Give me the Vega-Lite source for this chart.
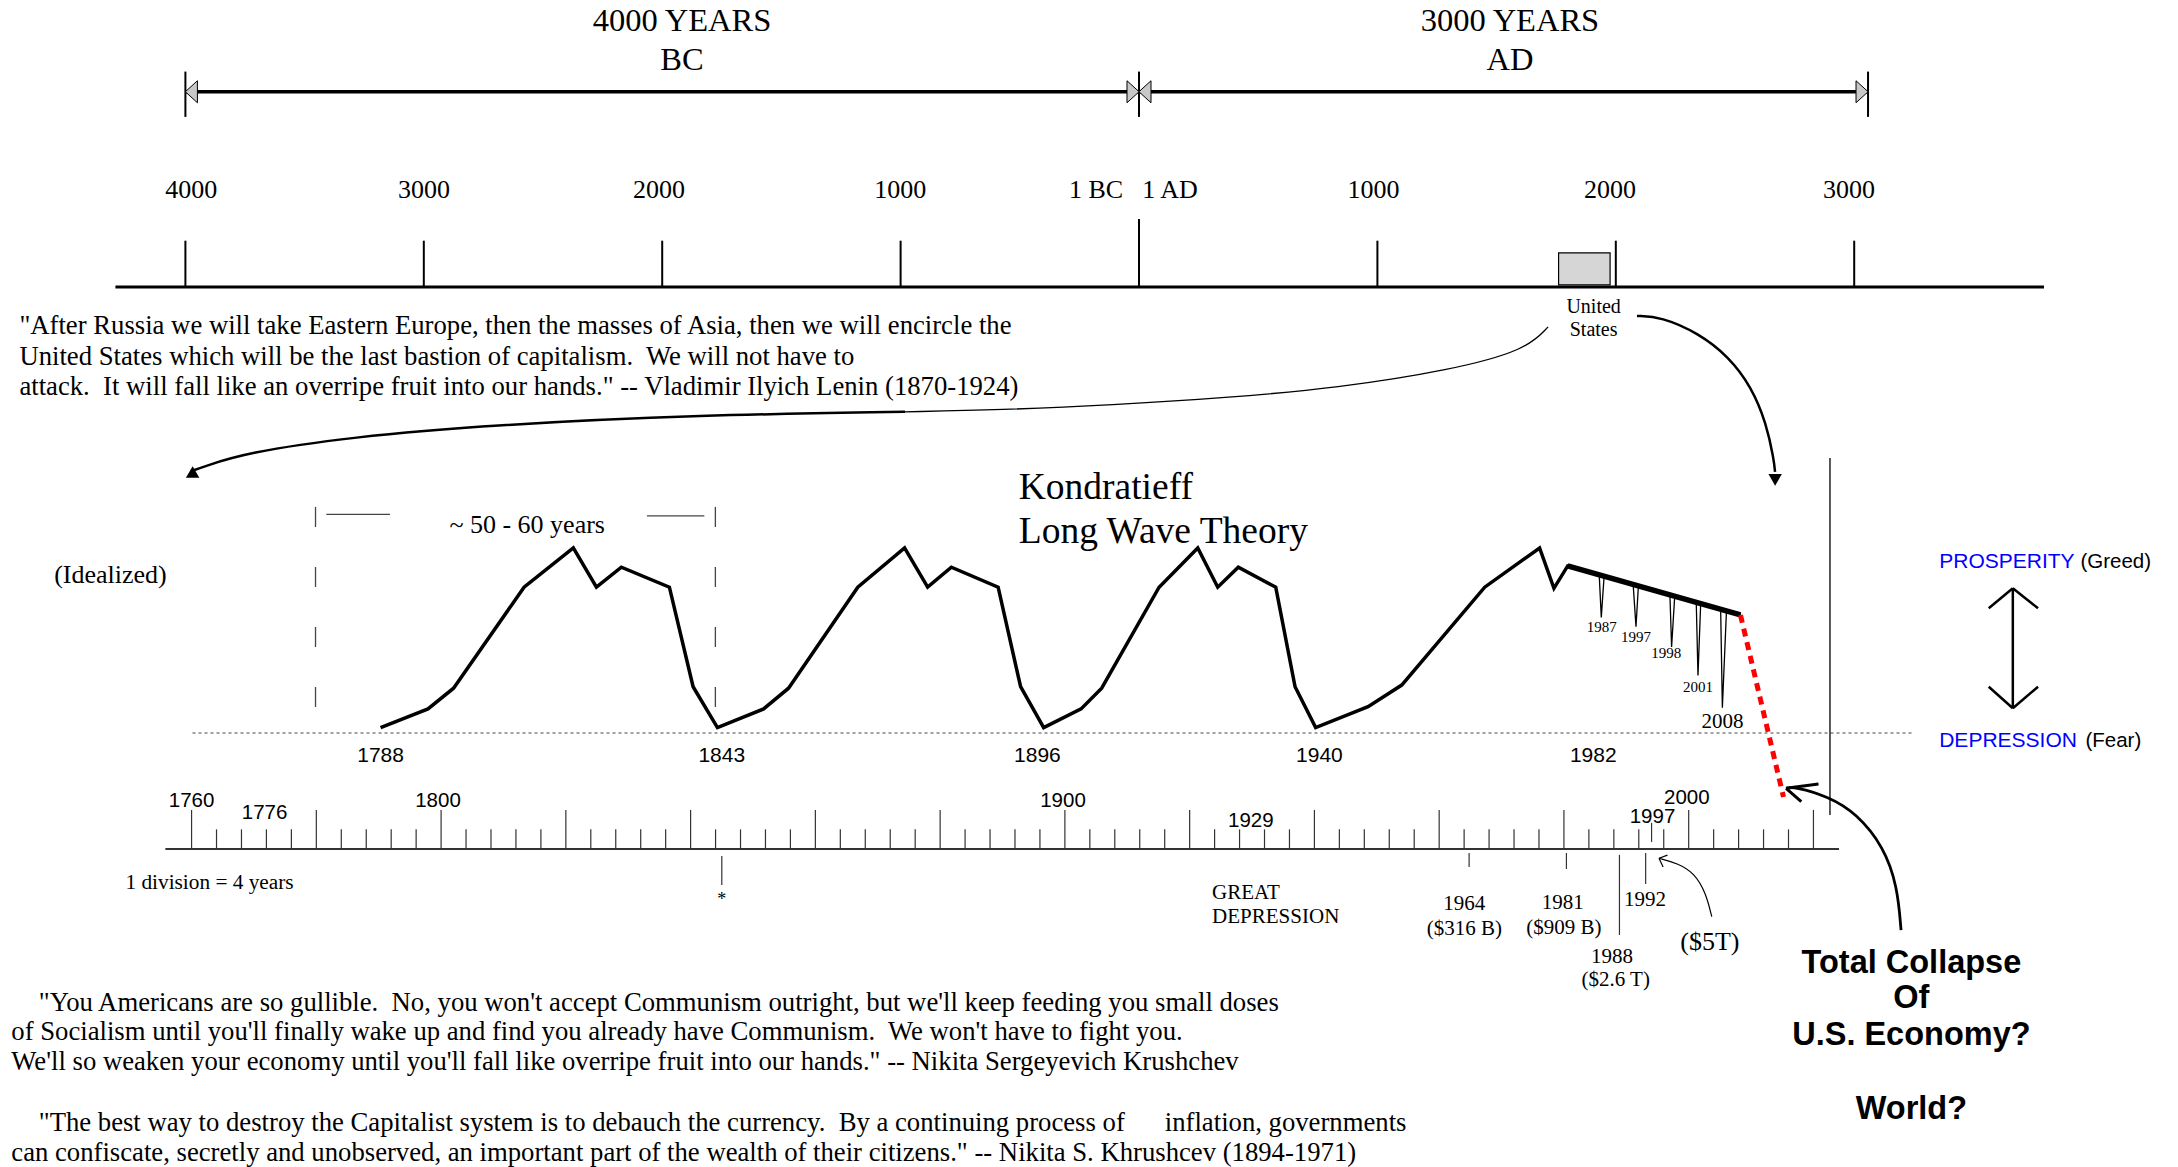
{
"$schema":"https://vega.github.io/schema/vega-lite/v6.json",
"width":2178,"height":1167,"padding":0,"autosize":{"type":"none"},
"background":"#ffffff",
"config":{"view":{"stroke":null},"text":{"font":"Liberation Serif","color":"#000000","baseline":"middle"}},
"resolve":{"scale":{"x":"independent","y":"independent"}},
"layer":[
{"data":{"values":[{"era":-4293.6,"era2":3796.1,"level":241.1}]},
 "mark":{"type":"rule","strokeWidth":3,"color":"#000000"},
 "encoding":{"x":{"field":"era","type":"quantitative","scale":{"domain":[-4777.7,4358.2],"nice":false,"zero":false},"axis":null},"x2":{"field":"era2"},
 "y":{"field":"level","type":"quantitative","scale":{"domain":[-234.6,396.2],"nice":false,"zero":false},"axis":null}}},
{"data":{"values":[{"era":-4000},{"era":-3000},{"era":-2000},{"era":-1000},{"era":1000},{"era":2000},{"era":3000}]},
 "mark":{"type":"rule","strokeWidth":2,"color":"#000000"},
 "encoding":{"x":{"field":"era","type":"quantitative","scale":{"domain":[-4777.7,4358.2],"nice":false,"zero":false},"axis":null},
 "y":{"datum":241.1,"type":"quantitative","scale":{"domain":[-234.6,396.2],"nice":false,"zero":false},"axis":null},"y2":{"datum":266.1}}},
{"data":{"values":[{"era":0}]},
 "mark":{"type":"rule","strokeWidth":2,"color":"#000000"},
 "encoding":{"x":{"field":"era","type":"quantitative","scale":{"domain":[-4777.7,4358.2],"nice":false,"zero":false},"axis":null},
 "y":{"datum":241.1,"type":"quantitative","scale":{"domain":[-234.6,396.2],"nice":false,"zero":false},"axis":null},"y2":{"datum":277.8}}},
{"data":{"values":[{"label":"4000","era":-3976},{"label":"3000","era":-2999},{"label":"2000","era":-2013},{"label":"1000","era":-1002},{"label":"1 BC","era":-180},{"label":"1 AD","era":130},{"label":"1000","era":984},{"label":"2000","era":1976},{"label":"3000","era":2978}]},
 "mark":{"type":"text","fontSize":26,"align":"center"},
 "encoding":{"x":{"field":"era","type":"quantitative","scale":{"domain":[-4777.7,4358.2],"nice":false,"zero":false},"axis":null},
 "y":{"datum":293.5,"type":"quantitative","scale":{"domain":[-234.6,396.2],"nice":false,"zero":false},"axis":null},"text":{"field":"label"}}},
{"data":{"values":[{"era":-4000,"era2":3058,"level":346.6}]},
 "mark":{"type":"rule","strokeWidth":3.5,"color":"#000000"},
 "encoding":{"x":{"field":"era","type":"quantitative","scale":{"domain":[-4777.7,4358.2],"nice":false,"zero":false},"axis":null},"x2":{"field":"era2"},
 "y":{"field":"level","type":"quantitative","scale":{"domain":[-234.6,396.2],"nice":false,"zero":false},"axis":null}}},
{"data":{"values":[{"era":-4000},{"era":0},{"era":3058}]},
 "mark":{"type":"rule","strokeWidth":2,"color":"#000000"},
 "encoding":{"x":{"field":"era","type":"quantitative","scale":{"domain":[-4777.7,4358.2],"nice":false,"zero":false},"axis":null},
 "y":{"datum":333.0,"type":"quantitative","scale":{"domain":[-234.6,396.2],"nice":false,"zero":false},"axis":null},"y2":{"datum":357.5}}},
{"data":{"values":[{"era":-3975,"level":346.6},{"era":25,"level":346.6}]},
 "mark":{"type":"point","shape":"M0.55,-1L-0.55,0L0.55,1Z","size":484,"filled":true,"fill":"#c8c8c8","stroke":"#000000","strokeWidth":1,"opacity":1},
 "encoding":{"x":{"field":"era","type":"quantitative","scale":{"domain":[-4777.7,4358.2],"nice":false,"zero":false},"axis":null},
 "y":{"field":"level","type":"quantitative","scale":{"domain":[-234.6,396.2],"nice":false,"zero":false},"axis":null}}},
{"data":{"values":[{"era":-25,"level":346.6},{"era":3033,"level":346.6}]},
 "mark":{"type":"point","shape":"M-0.55,-1L0.55,0L-0.55,1Z","size":484,"filled":true,"fill":"#c8c8c8","stroke":"#000000","strokeWidth":1,"opacity":1},
 "encoding":{"x":{"field":"era","type":"quantitative","scale":{"domain":[-4777.7,4358.2],"nice":false,"zero":false},"axis":null},
 "y":{"field":"level","type":"quantitative","scale":{"domain":[-234.6,396.2],"nice":false,"zero":false},"axis":null}}},
{"data":{"values":[{"label":"4000 YEARS","era":-1917,"level":384.9},{"label":"BC","era":-1917,"level":363.8},{"label":"3000 YEARS","era":1556,"level":384.9},{"label":"AD","era":1556,"level":363.8}]},
 "mark":{"type":"text","fontSize":32.5,"align":"center"},
 "encoding":{"x":{"field":"era","type":"quantitative","scale":{"domain":[-4777.7,4358.2],"nice":false,"zero":false},"axis":null},
 "y":{"field":"level","type":"quantitative","scale":{"domain":[-234.6,396.2],"nice":false,"zero":false},"axis":null},"text":{"field":"label"}}},
{"data":{"values":[{"era":1760,"era2":1976,"level":242.2,"level2":259.5}]},
 "mark":{"type":"rect","fill":"#d6d6d6","stroke":"#000000","strokeWidth":1.2},
 "encoding":{"x":{"field":"era","type":"quantitative","scale":{"domain":[-4777.7,4358.2],"nice":false,"zero":false},"axis":null},"x2":{"field":"era2"},
 "y":{"field":"level","type":"quantitative","scale":{"domain":[-234.6,396.2],"nice":false,"zero":false},"axis":null},"y2":{"field":"level2"}}},
{"data":{"values":[{"label":"United","era":1906.9,"level":230.4},{"label":"States","era":1906.9,"level":217.8}]},
 "mark":{"type":"text","fontSize":20,"align":"center"},
 "encoding":{"x":{"field":"era","type":"quantitative","scale":{"domain":[-4777.7,4358.2],"nice":false,"zero":false},"axis":null},
 "y":{"field":"level","type":"quantitative","scale":{"domain":[-234.6,396.2],"nice":false,"zero":false},"axis":null},"text":{"field":"label"}}},

{"data":{"values":[{"year":1760.15,"year2":2035.9,"level":0}]},
 "mark":{"type":"rule","strokeWidth":1.2,"color":"#444444","strokeDash":[3,3]},
 "encoding":{"x":{"field":"year","type":"quantitative","scale":{"domain":[1729.29,2078.44],"nice":false,"zero":false},"axis":null},"x2":{"field":"year2"},
 "y":{"field":"level","type":"quantitative","scale":{"domain":[-234.6,396.2],"nice":false,"zero":false},"axis":null}}},
{"data":{"values":[{"year":1790.3,"level":2.9},{"year":1797.9,"level":13},{"year":1802.0,"level":24.2},{"year":1813.3,"level":78.8},{"year":1821.2,"level":100},{"year":1824.9,"level":78.8},{"year":1828.9,"level":89.6},{"year":1836.6,"level":78.8},{"year":1840.4,"level":25},{"year":1844.3,"level":2.9},{"year":1851.7,"level":13},{"year":1855.7,"level":24.2},{"year":1866.8,"level":78.8},{"year":1874.3,"level":100},{"year":1878.0,"level":78.8},{"year":1881.8,"level":89.6},{"year":1889.3,"level":78.8},{"year":1892.9,"level":25},{"year":1896.6,"level":2.9},{"year":1902.6,"level":13},{"year":1905.9,"level":24.2},{"year":1915.1,"level":78.8},{"year":1921.3,"level":100},{"year":1924.5,"level":78.8},{"year":1927.8,"level":89.6},{"year":1933.8,"level":78.8},{"year":1936.9,"level":25},{"year":1940.2,"level":2.9},{"year":1948.6,"level":14.2},{"year":1954.0,"level":25.9},{"year":1967.3,"level":78.8},{"year":1976.1,"level":100},{"year":1978.4,"level":78.2},{"year":1980.6,"level":90.3},{"year":2008.3,"level":63.8}]},
 "mark":{"type":"line","strokeWidth":3.5,"color":"#000000"},
 "encoding":{"x":{"field":"year","type":"quantitative","scale":{"domain":[1729.29,2078.44],"nice":false,"zero":false},"axis":null},
 "y":{"field":"level","type":"quantitative","scale":{"domain":[-234.6,396.2],"nice":false,"zero":false},"axis":null}}},
{"data":{"values":[{"year":1980.6,"level":90.3},{"year":2008.3,"level":63.8}]},
 "mark":{"type":"line","strokeWidth":5.5,"color":"#000000"},
 "encoding":{"x":{"field":"year","type":"quantitative","scale":{"domain":[1729.29,2078.44],"nice":false,"zero":false},"axis":null},
 "y":{"field":"level","type":"quantitative","scale":{"domain":[-234.6,396.2],"nice":false,"zero":false},"axis":null}}},
{"data":{"values":[{"year":2008.3,"level":63.8},{"year":2015.2,"level":-34.6}]},
 "mark":{"type":"line","strokeWidth":5,"color":"#ff0000","strokeDash":[8,6]},
 "encoding":{"x":{"field":"year","type":"quantitative","scale":{"domain":[1729.29,2078.44],"nice":false,"zero":false},"axis":null},
 "y":{"field":"level","type":"quantitative","scale":{"domain":[-234.6,396.2],"nice":false,"zero":false},"axis":null}}},
{"data":{"values":[{"spike":"a","year":1985.67,"level":84.5},{"spike":"a","year":1985.99,"level":62.5},{"spike":"a","year":1986.42,"level":83.8},{"spike":"b","year":1991.12,"level":79.2},{"spike":"b","year":1991.55,"level":57.5},{"spike":"b","year":1991.92,"level":78.5},{"spike":"c","year":1997.0,"level":73.6},{"spike":"c","year":1997.26,"level":46.5},{"spike":"c","year":1997.74,"level":72.9},{"spike":"d","year":2001.22,"level":69.6},{"spike":"d","year":2001.49,"level":31.1},{"spike":"d","year":2001.91,"level":68.9},{"spike":"e","year":2005.13,"level":65.8},{"spike":"e","year":2005.4,"level":13.6},{"spike":"e","year":2006.04,"level":64.9}]},
 "mark":{"type":"line","strokeWidth":1.3,"color":"#000000"},
 "encoding":{"x":{"field":"year","type":"quantitative","scale":{"domain":[1729.29,2078.44],"nice":false,"zero":false},"axis":null},
 "y":{"field":"level","type":"quantitative","scale":{"domain":[-234.6,396.2],"nice":false,"zero":false},"axis":null},"detail":{"field":"spike"}}},
{"data":{"values":[{"label":"1987","year":1986.05,"level":57.5},{"label":"1997","year":1991.55,"level":51.9},{"label":"1998","year":1996.4,"level":43.2},{"label":"2001","year":2001.5,"level":25.1}]},
 "mark":{"type":"text","fontSize":15,"align":"center"},
 "encoding":{"x":{"field":"year","type":"quantitative","scale":{"domain":[1729.29,2078.44],"nice":false,"zero":false},"axis":null},
 "y":{"field":"level","type":"quantitative","scale":{"domain":[-234.6,396.2],"nice":false,"zero":false},"axis":null},"text":{"field":"label"}}},
{"data":{"values":[{"label":"2008","year":2005.4,"level":6.2}]},
 "mark":{"type":"text","fontSize":21,"align":"center"},
 "encoding":{"x":{"field":"year","type":"quantitative","scale":{"domain":[1729.29,2078.44],"nice":false,"zero":false},"axis":null},
 "y":{"field":"level","type":"quantitative","scale":{"domain":[-234.6,396.2],"nice":false,"zero":false},"axis":null},"text":{"field":"label"}}},
{"data":{"values":[{"label":"1788","year":1790.3},{"label":"1843","year":1845.0},{"label":"1896","year":1895.6},{"label":"1940","year":1940.8},{"label":"1982","year":1984.7}]},
 "mark":{"type":"text","fontSize":21,"align":"center","font":"Liberation Sans"},
 "encoding":{"x":{"field":"year","type":"quantitative","scale":{"domain":[1729.29,2078.44],"nice":false,"zero":false},"axis":null},
 "y":{"datum":-12.4,"type":"quantitative","scale":{"domain":[-234.6,396.2],"nice":false,"zero":false},"axis":null},"text":{"field":"label"}}},
{"data":{"values":[{"year":1779.87},{"year":1843.97}]},
 "mark":{"type":"rule","strokeWidth":1.3,"color":"#444444","strokeDash":[20,40]},
 "encoding":{"x":{"field":"year","type":"quantitative","scale":{"domain":[1729.29,2078.44],"nice":false,"zero":false},"axis":null},
 "y":{"datum":122.2,"type":"quantitative","scale":{"domain":[-234.6,396.2],"nice":false,"zero":false},"axis":null},"y2":{"datum":13.5}}},
{"data":{"values":[{"year":1781.6,"year2":1791.8,"level":118.2},{"year":1833.0,"year2":1842.2,"level":117.3}]},
 "mark":{"type":"rule","strokeWidth":1.3,"color":"#444444"},
 "encoding":{"x":{"field":"year","type":"quantitative","scale":{"domain":[1729.29,2078.44],"nice":false,"zero":false},"axis":null},"x2":{"field":"year2"},
 "y":{"field":"level","type":"quantitative","scale":{"domain":[-234.6,396.2],"nice":false,"zero":false},"axis":null}}},
{"data":{"values":[{"label":"~ 50 - 60 years","year":1813.8,"level":112.4},{"label":"(Idealized)","year":1747.0,"level":85.4}]},
 "mark":{"type":"text","fontSize":26,"align":"center"},
 "encoding":{"x":{"field":"year","type":"quantitative","scale":{"domain":[1729.29,2078.44],"nice":false,"zero":false},"axis":null},
 "y":{"field":"level","type":"quantitative","scale":{"domain":[-234.6,396.2],"nice":false,"zero":false},"axis":null},"text":{"field":"label"}}},
{"data":{"values":[{"label":"Kondratieff","year":1892.6,"level":132.3},{"label":"Long Wave Theory","year":1892.6,"level":108.8}]},
 "mark":{"type":"text","fontSize":37.5,"align":"left"},
 "encoding":{"x":{"field":"year","type":"quantitative","scale":{"domain":[1729.29,2078.44],"nice":false,"zero":false},"axis":null},
 "y":{"field":"level","type":"quantitative","scale":{"domain":[-234.6,396.2],"nice":false,"zero":false},"axis":null},"text":{"field":"label"}}},
{"data":{"values":[{"label":"PROSPERITY","year":2040.16,"level":92.6},{"label":"DEPRESSION","year":2040.16,"level":-4.2}]},
 "mark":{"type":"text","fontSize":21,"align":"left","font":"Liberation Sans","color":"#0000ff"},
 "encoding":{"x":{"field":"year","type":"quantitative","scale":{"domain":[1729.29,2078.44],"nice":false,"zero":false},"axis":null},
 "y":{"field":"level","type":"quantitative","scale":{"domain":[-234.6,396.2],"nice":false,"zero":false},"axis":null},"text":{"field":"label"}}},
{"data":{"values":[{"label":"(Greed)","year":2062.8,"level":92.6},{"label":"(Fear)","year":2063.6,"level":-4.2}]},
 "mark":{"type":"text","fontSize":20.5,"align":"left","font":"Liberation Sans","color":"#000000"},
 "encoding":{"x":{"field":"year","type":"quantitative","scale":{"domain":[1729.29,2078.44],"nice":false,"zero":false},"axis":null},
 "y":{"field":"level","type":"quantitative","scale":{"domain":[-234.6,396.2],"nice":false,"zero":false},"axis":null},"text":{"field":"label"}}},
{"data":{"values":[{"year":2051.96,"level":78.2,"year2":2051.96,"level2":13.4},{"year":2048.1,"level":67.4,"year2":2051.96,"level2":78.2},{"year":2056.0,"level":67.4,"year2":2051.96,"level2":78.2},{"year":2048.1,"level":25.0,"year2":2051.96,"level2":13.4},{"year":2056.0,"level":25.0,"year2":2051.96,"level2":13.4}]},
 "mark":{"type":"rule","strokeWidth":2.5,"color":"#000000"},
 "encoding":{"x":{"field":"year","type":"quantitative","scale":{"domain":[1729.29,2078.44],"nice":false,"zero":false},"axis":null},"x2":{"field":"year2"},
 "y":{"field":"level","type":"quantitative","scale":{"domain":[-234.6,396.2],"nice":false,"zero":false},"axis":null},"y2":{"field":"level2"}}},
{"data":{"values":[{"year":2022.65,"level":148.6,"level2":-44.3}]},
 "mark":{"type":"rule","strokeWidth":1.3,"color":"#000000"},
 "encoding":{"x":{"field":"year","type":"quantitative","scale":{"domain":[1729.29,2078.44],"nice":false,"zero":false},"axis":null},
 "y":{"field":"level","type":"quantitative","scale":{"domain":[-234.6,396.2],"nice":false,"zero":false},"axis":null},"y2":{"field":"level2"}}},
{"data":{"values":[{"year":1755.8,"year2":2024.1,"level":-62.7}]},
 "mark":{"type":"rule","strokeWidth":2,"color":"#333333"},
 "encoding":{"x":{"field":"year","type":"quantitative","scale":{"domain":[1729.29,2078.44],"nice":false,"zero":false},"axis":null},"x2":{"field":"year2"},
 "y":{"field":"level","type":"quantitative","scale":{"domain":[-234.6,396.2],"nice":false,"zero":false},"axis":null}}},
{"data":{"values":[{"year":1760},{"year":1780},{"year":1800},{"year":1820},{"year":1840},{"year":1860},{"year":1880},{"year":1900},{"year":1920},{"year":1940},{"year":1960},{"year":1980},{"year":2000},{"year":2020}]},
 "mark":{"type":"rule","strokeWidth":1.2,"color":"#333333"},
 "encoding":{"x":{"field":"year","type":"quantitative","scale":{"domain":[1729.29,2078.44],"nice":false,"zero":false},"axis":null},
 "y":{"datum":-62.7,"type":"quantitative","scale":{"domain":[-234.6,396.2],"nice":false,"zero":false},"axis":null},"y2":{"datum":-41.6}}},
{"data":{"values":[{"year":1764},{"year":1768},{"year":1772},{"year":1776},{"year":1784},{"year":1788},{"year":1792},{"year":1796},{"year":1804},{"year":1808},{"year":1812},{"year":1816},{"year":1824},{"year":1828},{"year":1832},{"year":1836},{"year":1844},{"year":1848},{"year":1852},{"year":1856},{"year":1864},{"year":1868},{"year":1872},{"year":1876},{"year":1884},{"year":1888},{"year":1892},{"year":1896},{"year":1904},{"year":1908},{"year":1912},{"year":1916},{"year":1924},{"year":1928},{"year":1932},{"year":1936},{"year":1944},{"year":1948},{"year":1952},{"year":1956},{"year":1964},{"year":1968},{"year":1972},{"year":1976},{"year":1984},{"year":1988},{"year":1992},{"year":1996},{"year":2004},{"year":2008},{"year":2012},{"year":2016}]},
 "mark":{"type":"rule","strokeWidth":1.2,"color":"#333333"},
 "encoding":{"x":{"field":"year","type":"quantitative","scale":{"domain":[1729.29,2078.44],"nice":false,"zero":false},"axis":null},
 "y":{"datum":-62.7,"type":"quantitative","scale":{"domain":[-234.6,396.2],"nice":false,"zero":false},"axis":null},"y2":{"datum":-52.1}}},
{"data":{"values":[{"year":1994.05,"level":-48.6,"level2":-58.9},{"year":1964.8,"level":-64.9,"level2":-72.4},{"year":1980.4,"level":-64.9,"level2":-73.5},{"year":1988.9,"level":-65.9,"level2":-109.2},{"year":1993.1,"level":-64.9,"level2":-81.6},{"year":1845.0,"level":-66.5,"level2":-82.2}]},
 "mark":{"type":"rule","strokeWidth":1.2,"color":"#333333"},
 "encoding":{"x":{"field":"year","type":"quantitative","scale":{"domain":[1729.29,2078.44],"nice":false,"zero":false},"axis":null},
 "y":{"field":"level","type":"quantitative","scale":{"domain":[-234.6,396.2],"nice":false,"zero":false},"axis":null},"y2":{"field":"level2"}}},
{"data":{"values":[{"label":"1760","year":1760,"level":-36.8},{"label":"1776","year":1771.7,"level":-43.2},{"label":"1800","year":1799.5,"level":-36.8},{"label":"1900","year":1899.7,"level":-36.8},{"label":"1929","year":1929.8,"level":-47.4},{"label":"1997","year":1994.2,"level":-45.4},{"label":"2000","year":1999.7,"level":-35.1}]},
 "mark":{"type":"text","fontSize":20.5,"align":"center","font":"Liberation Sans"},
 "encoding":{"x":{"field":"year","type":"quantitative","scale":{"domain":[1729.29,2078.44],"nice":false,"zero":false},"axis":null},
 "y":{"field":"level","type":"quantitative","scale":{"domain":[-234.6,396.2],"nice":false,"zero":false},"axis":null},"text":{"field":"label"}}},
{"data":{"values":[{"label":"1 division = 4 years","year":1749.4,"level":-80.9}]},
 "mark":{"type":"text","fontSize":21.3,"align":"left"},
 "encoding":{"x":{"field":"year","type":"quantitative","scale":{"domain":[1729.29,2078.44],"nice":false,"zero":false},"axis":null},
 "y":{"field":"level","type":"quantitative","scale":{"domain":[-234.6,396.2],"nice":false,"zero":false},"axis":null},"text":{"field":"label"}}},
{"data":{"values":[{"label":"*","year":1845.0,"level":-90.5}]},
 "mark":{"type":"text","fontSize":18,"align":"center"},
 "encoding":{"x":{"field":"year","type":"quantitative","scale":{"domain":[1729.29,2078.44],"nice":false,"zero":false},"axis":null},
 "y":{"field":"level","type":"quantitative","scale":{"domain":[-234.6,396.2],"nice":false,"zero":false},"axis":null},"text":{"field":"label"}}},
{"data":{"values":[{"label":"GREAT","year":1923.6,"level":-86.6},{"label":"DEPRESSION","year":1923.6,"level":-99.3}]},
 "mark":{"type":"text","fontSize":21,"align":"left"},
 "encoding":{"x":{"field":"year","type":"quantitative","scale":{"domain":[1729.29,2078.44],"nice":false,"zero":false},"axis":null},
 "y":{"field":"level","type":"quantitative","scale":{"domain":[-234.6,396.2],"nice":false,"zero":false},"axis":null},"text":{"field":"label"}}},
{"data":{"values":[{"label":"1964","year":1964.04,"level":-92.6},{"label":"($316 B)","year":1964.04,"level":-106.1},{"label":"1981","year":1979.8,"level":-92.1},{"label":"($909 B)","year":1980.0,"level":-105.6},{"label":"1992","year":1993.0,"level":-90.3},{"label":"1988","year":1987.7,"level":-120.9},{"label":"($2.6 T)","year":1988.3,"level":-133.5}]},
 "mark":{"type":"text","fontSize":21,"align":"center"},
 "encoding":{"x":{"field":"year","type":"quantitative","scale":{"domain":[1729.29,2078.44],"nice":false,"zero":false},"axis":null},
 "y":{"field":"level","type":"quantitative","scale":{"domain":[-234.6,396.2],"nice":false,"zero":false},"axis":null},"text":{"field":"label"}}},
{"data":{"values":[{"label":"($5T)","year":2003.4,"level":-112.8}]},
 "mark":{"type":"text","fontSize":26,"align":"center"},
 "encoding":{"x":{"field":"year","type":"quantitative","scale":{"domain":[1729.29,2078.44],"nice":false,"zero":false},"axis":null},
 "y":{"field":"level","type":"quantitative","scale":{"domain":[-234.6,396.2],"nice":false,"zero":false},"axis":null},"text":{"field":"label"}}},
{"data":{"values":[{"label":"Total Collapse","year":2035.7,"level":-124.5},{"label":"Of","year":2035.7,"level":-143.4},{"label":"U.S. Economy?","year":2035.7,"level":-163.2},{"label":"World?","year":2035.7,"level":-203.4}]},
 "mark":{"type":"text","fontSize":32.5,"align":"center","font":"Liberation Sans","fontWeight":"bold"},
 "encoding":{"x":{"field":"year","type":"quantitative","scale":{"domain":[1729.29,2078.44],"nice":false,"zero":false},"axis":null},
 "y":{"field":"level","type":"quantitative","scale":{"domain":[-234.6,396.2],"nice":false,"zero":false},"axis":null},"text":{"field":"label"}}},
{"data":{"values":[
 {"label":"\"After Russia we will take Eastern Europe, then the masses of Asia, then we will encircle the","year":1732.4,"level":220},
 {"label":"United States which will be the last bastion of capitalism.\u00a0 We will not have to","year":1732.4,"level":203.4},
 {"label":"attack.\u00a0 It will fall like an overripe fruit into our hands.\" -- Vladimir Ilyich Lenin (1870-1924)","year":1732.4,"level":186.9},
 {"label":"\"You Americans are so gullible.\u00a0 No, you won't accept Communism outright, but we'll keep feeding you small doses","year":1735.5,"level":-145.8},
 {"label":"of Socialism until you'll finally wake up and find you already have Communism.\u00a0 We won't have to fight you.","year":1731.1,"level":-161.5},
 {"label":"We'll so weaken your economy until you'll fall like overripe fruit into our hands.\" -- Nikita Sergeyevich Krushchev","year":1731.1,"level":-177.7},
 {"label":"\"The best way to destroy the Capitalist system is to debauch the currency.\u00a0 By a continuing process of\u00a0\u00a0\u00a0\u00a0\u00a0 inflation, governments","year":1735.5,"level":-211.0},
 {"label":"can confiscate, secretly and unobserved, an important part of the wealth of their citizens.\" -- Nikita S. Khrushcev (1894-1971)","year":1731.1,"level":-227.2}]},
 "mark":{"type":"text","fontSize":26.7,"align":"left"},
 "encoding":{"x":{"field":"year","type":"quantitative","scale":{"domain":[1729.29,2078.44],"nice":false,"zero":false},"axis":null},
 "y":{"field":"level","type":"quantitative","scale":{"domain":[-234.6,396.2],"nice":false,"zero":false},"axis":null},"text":{"field":"label"}}},
{"data":{"values":[{"year":1977.46,"level":219.5},{"year":1973.92,"level":207.0},{"year":1961.9,"level":196.2},{"year":1943.78,"level":186.5},{"year":1925.66,"level":181.1},{"year":1907.71,"level":177.3},{"year":1889.6,"level":174.6},{"year":1874.37,"level":173.6}]},
 "mark":{"type":"line","strokeWidth":1.3,"color":"#000000","interpolate":"basis"},
 "encoding":{"x":{"field":"year","type":"quantitative","scale":{"domain":[1729.29,2078.44],"nice":false,"zero":false},"axis":null},
 "y":{"field":"level","type":"quantitative","scale":{"domain":[-234.6,396.2],"nice":false,"zero":false},"axis":null}}},
{"data":{"values":[{"year":1874.37,"level":173.6},{"year":1841.66,"level":171.9},{"year":1808.0,"level":166.5},{"year":1785.55,"level":160.0},{"year":1768.56,"level":151.4},{"year":1761.83,"level":143.8},{"year":1759.9,"level":141.5}]},
 "mark":{"type":"line","strokeWidth":2.5,"color":"#000000","interpolate":"basis"},
 "encoding":{"x":{"field":"year","type":"quantitative","scale":{"domain":[1729.29,2078.44],"nice":false,"zero":false},"axis":null},
 "y":{"field":"level","type":"quantitative","scale":{"domain":[-234.6,396.2],"nice":false,"zero":false},"axis":null}}},
{"data":{"values":[{"year":1759.9,"level":139.5}]},
 "mark":{"type":"point","shape":"triangle-up","angle":240,"size":180,"filled":true,"color":"#000000","opacity":1},
 "encoding":{"x":{"field":"year","type":"quantitative","scale":{"domain":[1729.29,2078.44],"nice":false,"zero":false},"axis":null},
 "y":{"field":"level","type":"quantitative","scale":{"domain":[-234.6,396.2],"nice":false,"zero":false},"axis":null}}},
{"data":{"values":[{"year":1991.71,"level":225.4},{"year":1995.56,"level":225.0},{"year":2001.6,"level":216.1},{"year":2006.43,"level":203.4},{"year":2010.04,"level":187.2},{"year":2012.46,"level":167.4},{"year":2013.66,"level":147.6},{"year":2013.84,"level":141.1}]},
 "mark":{"type":"line","strokeWidth":2.5,"color":"#000000","interpolate":"basis"},
 "encoding":{"x":{"field":"year","type":"quantitative","scale":{"domain":[1729.29,2078.44],"nice":false,"zero":false},"axis":null},
 "y":{"field":"level","type":"quantitative","scale":{"domain":[-234.6,396.2],"nice":false,"zero":false},"axis":null}}},
{"data":{"values":[{"year":2013.86,"level":136.8}]},
 "mark":{"type":"point","shape":"triangle-down","size":180,"filled":true,"color":"#000000","opacity":1},
 "encoding":{"x":{"field":"year","type":"quantitative","scale":{"domain":[1729.29,2078.44],"nice":false,"zero":false},"axis":null},
 "y":{"field":"level","type":"quantitative","scale":{"domain":[-234.6,396.2],"nice":false,"zero":false},"axis":null}}},
{"data":{"values":[{"year":2034.04,"level":-106.5},{"year":2033.47,"level":-83.1},{"year":2031.28,"level":-61.5},{"year":2026.87,"level":-43.4},{"year":2022.46,"level":-34.4},{"year":2016.95,"level":-29.0},{"year":2015.61,"level":-29.9}]},
 "mark":{"type":"line","strokeWidth":2.8,"color":"#000000","interpolate":"basis"},
 "encoding":{"x":{"field":"year","type":"quantitative","scale":{"domain":[1729.29,2078.44],"nice":false,"zero":false},"axis":null},
 "y":{"field":"level","type":"quantitative","scale":{"domain":[-234.6,396.2],"nice":false,"zero":false},"axis":null}}},
{"data":{"values":[{"year":2015.61,"level":-29.9,"year2":2020.81,"level2":-27.6},{"year":2015.61,"level":-29.9,"year2":2018.05,"level2":-37.1}]},
 "mark":{"type":"rule","strokeWidth":3,"color":"#000000"},
 "encoding":{"x":{"field":"year","type":"quantitative","scale":{"domain":[1729.29,2078.44],"nice":false,"zero":false},"axis":null},"x2":{"field":"year2"},
 "y":{"field":"level","type":"quantitative","scale":{"domain":[-234.6,396.2],"nice":false,"zero":false},"axis":null},"y2":{"field":"level2"}}},
{"data":{"values":[{"year":2003.7,"level":-99.3},{"year":2002.77,"level":-86.6},{"year":2000.95,"level":-75.8},{"year":1998.19,"level":-70.4},{"year":1995.24,"level":-67.7}]},
 "mark":{"type":"line","strokeWidth":1.2,"color":"#000000","interpolate":"basis"},
 "encoding":{"x":{"field":"year","type":"quantitative","scale":{"domain":[1729.29,2078.44],"nice":false,"zero":false},"axis":null},
 "y":{"field":"level","type":"quantitative","scale":{"domain":[-234.6,396.2],"nice":false,"zero":false},"axis":null}}},
{"data":{"values":[{"year":1995.24,"level":-67.7,"year2":1996.6,"level2":-66.0},{"year":1995.24,"level":-67.7,"year2":1995.9,"level2":-72.4}]},
 "mark":{"type":"rule","strokeWidth":1.2,"color":"#000000"},
 "encoding":{"x":{"field":"year","type":"quantitative","scale":{"domain":[1729.29,2078.44],"nice":false,"zero":false},"axis":null},"x2":{"field":"year2"},
 "y":{"field":"level","type":"quantitative","scale":{"domain":[-234.6,396.2],"nice":false,"zero":false},"axis":null},"y2":{"field":"level2"}}}
]
}
